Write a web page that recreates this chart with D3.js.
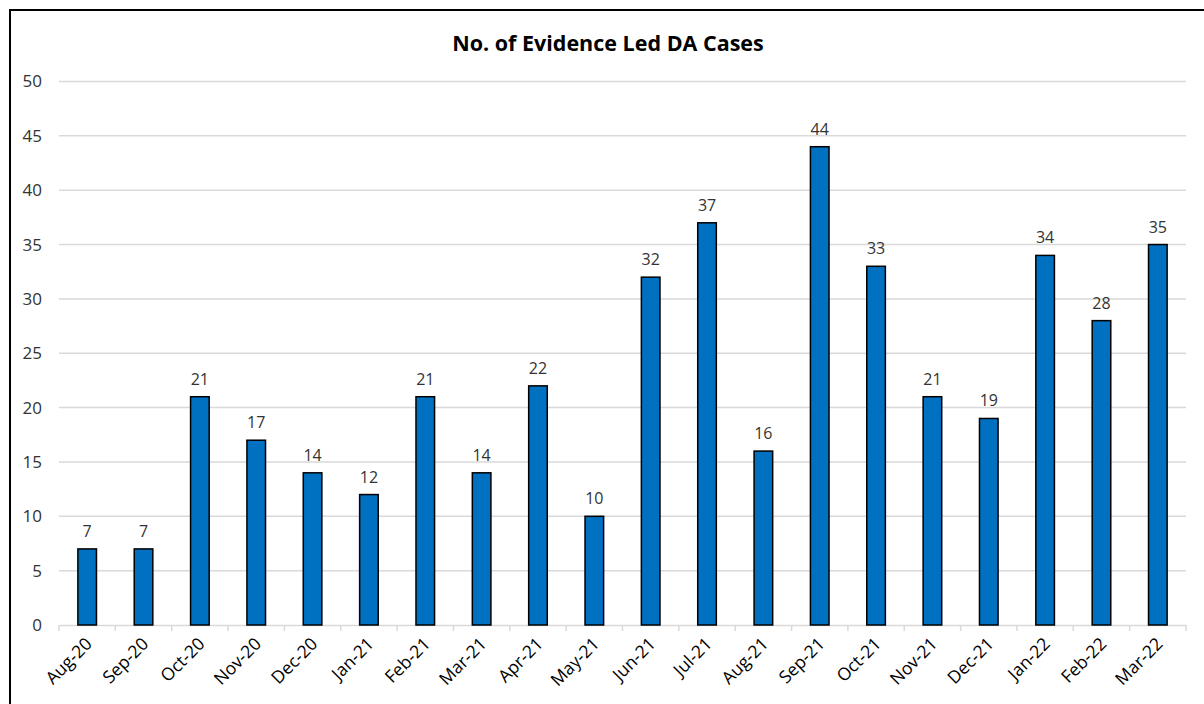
<!DOCTYPE html>
<html>
<head>
<meta charset="utf-8">
<script src="https://cdn.jsdelivr.net/npm/d3@7"></script>
<style>
  body { margin: 0; background: #fff; }
  svg { display: block; font-family: "Open Sans", "Noto Sans", sans-serif; }
</style>
</head>
<body>
<div id="chart"></div>
<script>
// months on the x axis
var months = ["Aug-20","Sep-20","Oct-20","Nov-20","Dec-20","Jan-21","Feb-21","Mar-21","Apr-21","May-21",
              "Jun-21","Jul-21","Aug-21","Sep-21","Oct-21","Nov-21","Dec-21","Jan-22","Feb-22","Mar-22"];
// number of cases per month
var cases = [7, 7, 21, 17, 14, 12, 21, 14, 22, 10, 32, 37, 16, 44, 33, 21, 19, 34, 28, 35];
var yTicks = [0, 5, 10, 15, 20, 25, 30, 35, 40, 45, 50];
var chartTitle = "No. of Evidence Led DA Cases";

var width = 1204, height = 704;
var plot = {left: 59, right: 1186, top: 81.5, bottom: 625};

var svg = d3.select("#chart").append("svg")
    .attr("width", width)
    .attr("height", height);

// outer chart border (runs off the right and bottom edges)
svg.append("rect")
    .attr("x", 10).attr("y", 10)
    .attr("width", width + 20).attr("height", height + 20)
    .attr("fill", "none")
    .attr("stroke", "#000")
    .attr("stroke-width", 2);

svg.append("text")
    .attr("x", 608).attr("y", 51)
    .attr("text-anchor", "middle")
    .attr("font-size", 21.5)
    .attr("font-weight", "bold")
    .attr("fill", "#000")
    .text(chartTitle);

var x = d3.scaleBand()
    .domain(months)
    .range([plot.left, plot.right])
    .paddingInner(0.67)
    .paddingOuter(0.335);

var y = d3.scaleLinear()
    .domain([0, 50])
    .range([plot.bottom, plot.top]);

// gridlines
svg.append("g")
  .selectAll("line")
  .data(yTicks.filter(function(d) { return d > 0; }))
  .enter().append("line")
    .attr("x1", plot.left).attr("x2", plot.right)
    .attr("y1", function(d) { return y(d); })
    .attr("y2", function(d) { return y(d); })
    .attr("stroke", "#d9d9d9")
    .attr("stroke-width", 1.5);

// y axis labels
svg.append("g")
  .selectAll("text")
  .data(yTicks)
  .enter().append("text")
    .attr("x", 42)
    .attr("y", function(d) { return y(d); })
    .attr("dy", "0.35em")
    .attr("text-anchor", "end")
    .attr("font-size", 17)
    .attr("fill", "#333")
    .text(function(d) { return d; });

// x axis
var xAxis = d3.axisBottom(x).tickSize(6).tickSizeOuter(0).tickFormat("");
var gx = svg.append("g")
    .attr("transform", "translate(0," + plot.bottom + ")")
    .call(xAxis);
gx.select(".domain").attr("stroke", "#d9d9d9").attr("stroke-width", 1.5);
// ticks sit between categories, like the original
gx.selectAll(".tick").remove();
var step = x.step();
svg.append("g")
  .selectAll("line")
  .data(d3.range(months.length + 1))
  .enter().append("line")
    .attr("x1", function(i) { return plot.left + i * step; })
    .attr("x2", function(i) { return plot.left + i * step; })
    .attr("y1", plot.bottom)
    .attr("y2", plot.bottom + 6)
    .attr("stroke", "#d9d9d9")
    .attr("stroke-width", 1.5);

svg.append("g")
  .selectAll("text")
  .data(months)
  .enter().append("text")
    .attr("text-anchor", "end")
    .attr("font-size", 17.5)
    .attr("fill", "#000")
    .attr("transform", function(d) {
      var cx = x(d) + x.bandwidth() / 2 + 6;
      return "translate(" + cx + "," + (plot.bottom + 20) + ") rotate(-45)";
    })
    .text(function(d) { return d; });

// bars
svg.append("g")
  .selectAll("rect")
  .data(cases)
  .enter().append("rect")
    .attr("x", function(d, i) { return x(months[i]); })
    .attr("y", function(d) { return y(d); })
    .attr("width", x.bandwidth())
    .attr("height", function(d) { return y(0) - y(d); })
    .attr("fill", "#0070c0")
    .attr("stroke", "#000")
    .attr("stroke-width", 1.5);

// value labels
svg.append("g")
  .selectAll("text")
  .data(cases)
  .enter().append("text")
    .attr("x", function(d, i) { return x(months[i]) + x.bandwidth() / 2; })
    .attr("y", function(d) { return y(d) - 12; })
    .attr("text-anchor", "middle")
    .attr("font-size", 16)
    .attr("fill", "#333")
    .text(function(d) { return d; });
</script>
</body>
</html>
